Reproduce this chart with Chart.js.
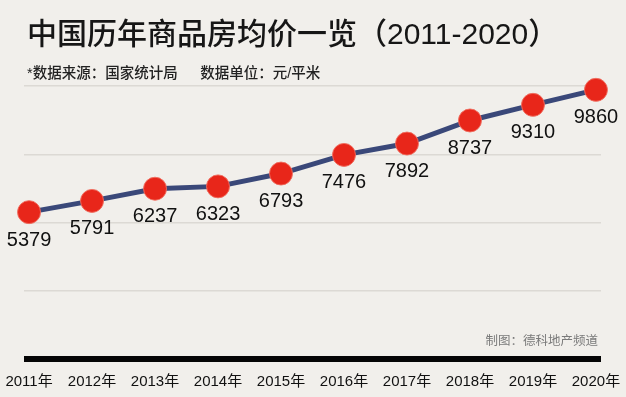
<!DOCTYPE html>
<html>
<head>
<meta charset="utf-8">
<script src="https://cdn.jsdelivr.net/npm/chart.js@4"></script>
<style>
  html, body { margin: 0; padding: 0; background: #f1efeb; }
  #wrap { width: 626px; height: 397px; }
</style>
</head>
<body>
<div id="wrap"><canvas id="c" width="626" height="397"></canvas></div>
<script>
const titleText = '中国历年商品房均价一览（2011-2020）';
const subtitleText = '*数据来源：国家统计局　  数据单位：元/平米';
const creditText = '制图：德科地产频道';
const years = ['2011年','2012年','2013年','2014年','2015年','2016年','2017年','2018年','2019年','2020年'];
const prices = [5379, 5791, 6237, 6323, 6793, 7476, 7892, 8737, 9310, 9860];
const yTicks = [0, 2500, 5000, 7500, 10000];

const latin = "'Liberation Sans', 'Noto Sans CJK SC', sans-serif";

const textPlugin = {
  id: 'texts',
  afterDraw(chart) {
    const ctx = chart.ctx;
    ctx.save();
    ctx.fillStyle = '#161616';
    ctx.textAlign = 'left';
    ctx.textBaseline = 'middle';
    ctx.font = '500 30px ' + latin;
    ctx.fillText(titleText, 27, 36);
    ctx.fillStyle = '#222';
    ctx.font = '500 14.5px ' + latin;
    ctx.fillText(subtitleText, 27, 74);
    ctx.fillStyle = '#7a7a7a';
    ctx.textAlign = 'right';
    ctx.font = '12.5px ' + latin;
    ctx.fillText(creditText, 598, 342);
    ctx.restore();
  }
};

const labelPlugin = {
  id: 'valueLabels',
  afterDatasetsDraw(chart) {
    const ctx = chart.ctx;
    const meta = chart.getDatasetMeta(0);
    ctx.save();
    ctx.fillStyle = '#111';
    ctx.font = '20px ' + latin;
    ctx.textAlign = 'center';
    ctx.textBaseline = 'middle';
    meta.data.forEach((pt, i) => {
      ctx.fillText(String(prices[i]), pt.x, pt.y + 28);
    });
    ctx.restore();
  }
};

new Chart(document.getElementById('c'), {
  type: 'line',
  data: {
    datasets: [{
      data: prices.map((v, i) => ({ x: i, y: v })),
      borderColor: '#3a4879',
      borderWidth: 5,
      pointRadius: 11.5,
      pointBackgroundColor: '#e8261a',
      pointBorderColor: 'rgba(240,110,95,0.9)',
      pointBorderWidth: 1,
      tension: 0,
      fill: false,
      clip: false
    }]
  },
  options: {
    responsive: false,
    animation: false,
    events: [],
    layout: { padding: { left: 24, right: 25, top: 86, bottom: 8 } },
    plugins: { legend: { display: false }, tooltip: { enabled: false } },
    scales: {
      x: {
        type: 'linear',
        min: -0.08,
        max: 9.08,
        grid: { display: false, drawTicks: false },
        border: { display: false },
        afterFit: (scale) => { scale.paddingLeft = 0; scale.paddingRight = 0; scale.height = 30; },
        ticks: {
          stepSize: 1,
          includeBounds: false,
          autoSkip: false,
          maxRotation: 0,
          padding: 14,
          color: '#111',
          font: { size: 15, family: latin },
          callback: (v) => Number.isInteger(v) && years[v] !== undefined ? years[v] : ''
        }
      },
      y: {
        min: yTicks[0],
        max: yTicks[yTicks.length - 1],
        afterBuildTicks: (scale) => { scale.ticks = yTicks.map(v => ({ value: v })); },
        border: { display: false },
        grid: {
          drawTicks: false,
          color: (c) => c.tick && c.tick.value === 0 ? '#050505' : '#dcd9d4',
          lineWidth: (c) => c.tick && c.tick.value === 0 ? 6 : 1.5
        },
        ticks: { display: false }
      }
    }
  },
  plugins: [textPlugin, labelPlugin]
});
</script>
</body>
</html>
